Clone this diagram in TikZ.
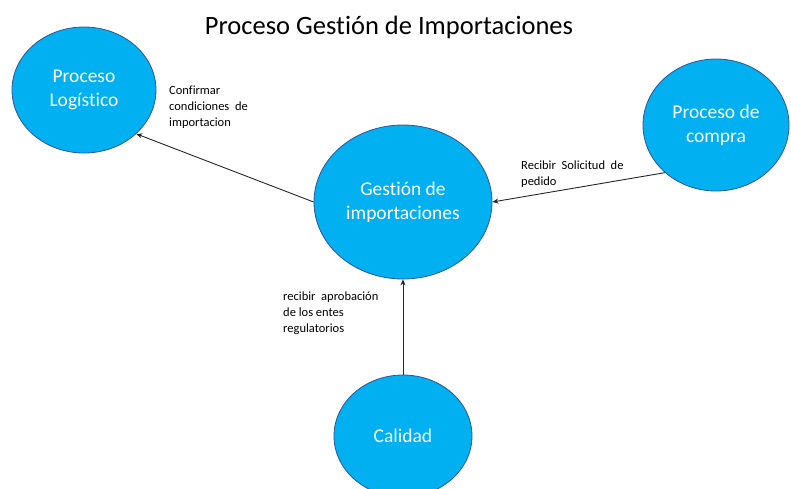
\documentclass[tikz,border=0pt]{standalone}
\usepackage{fontspec}
\setmainfont{Carlito}[Ligatures=NoCommon]
\usetikzlibrary{shapes.geometric,arrows.meta}
\definecolor{procblue}{HTML}{00B0F0}
\definecolor{procline}{HTML}{2F5597}
\begin{document}
\begin{tikzpicture}[x=1pt,y=-1pt,
    proc/.style={ellipse,fill=procblue,draw=procline,line width=0.8pt,inner sep=0pt,
        text=white,align=center,font=\fontsize{19.5}{24}\selectfont},
    note/.style={anchor=base west,inner sep=0pt,align=left,font=\fontsize{12.5}{16}\selectfont},
    flow/.style={line width=0.9pt,draw=black!85,-{Stealth[length=6pt,width=5pt]}}]
    \useasboundingbox (0,0) rectangle (791,488);
    \clip (0,0) rectangle (791,488);
    %% title
    \node[anchor=base,inner sep=0pt,font=\fontsize{26.5}{31}\selectfont] (titulo) at (389,34) {Proceso Gestión de Importaciones};
    %% processes
    \node[proc,minimum width=144pt,minimum height=126pt] (logistico) at (84,90) {Proceso\\Logístico};
    \node[proc,minimum width=178pt,minimum height=154pt] (gestion) at (403,202) {Gestión de\\importaciones};
    \node[proc,minimum width=146pt,minimum height=132pt] (compra) at (716,125) {Proceso de\\compra};
    \node[proc,minimum width=138pt,minimum height=122pt] (calidad) at (403,436) {Calidad};
    %% flows
    \draw[flow] (gestion.west) -- (logistico.-40);
    \draw[flow] (compra.223) -- (gestion.east);
    \draw[flow] (calidad.north) -- (gestion.south);
    %% flow labels (base = last line)
    \node[note] (confirmar) at (169,126) {Confirmar\\condiciones~ de\\importacion};
    \node[note] (recibir) at (521,185) {Recibir~ Solicitud~ de\\pedido};
    \node[note] (aprobacion) at (283,332) {recibir~ aprobación\\de los entes\\regulatorios};
\end{tikzpicture}
\end{document}
